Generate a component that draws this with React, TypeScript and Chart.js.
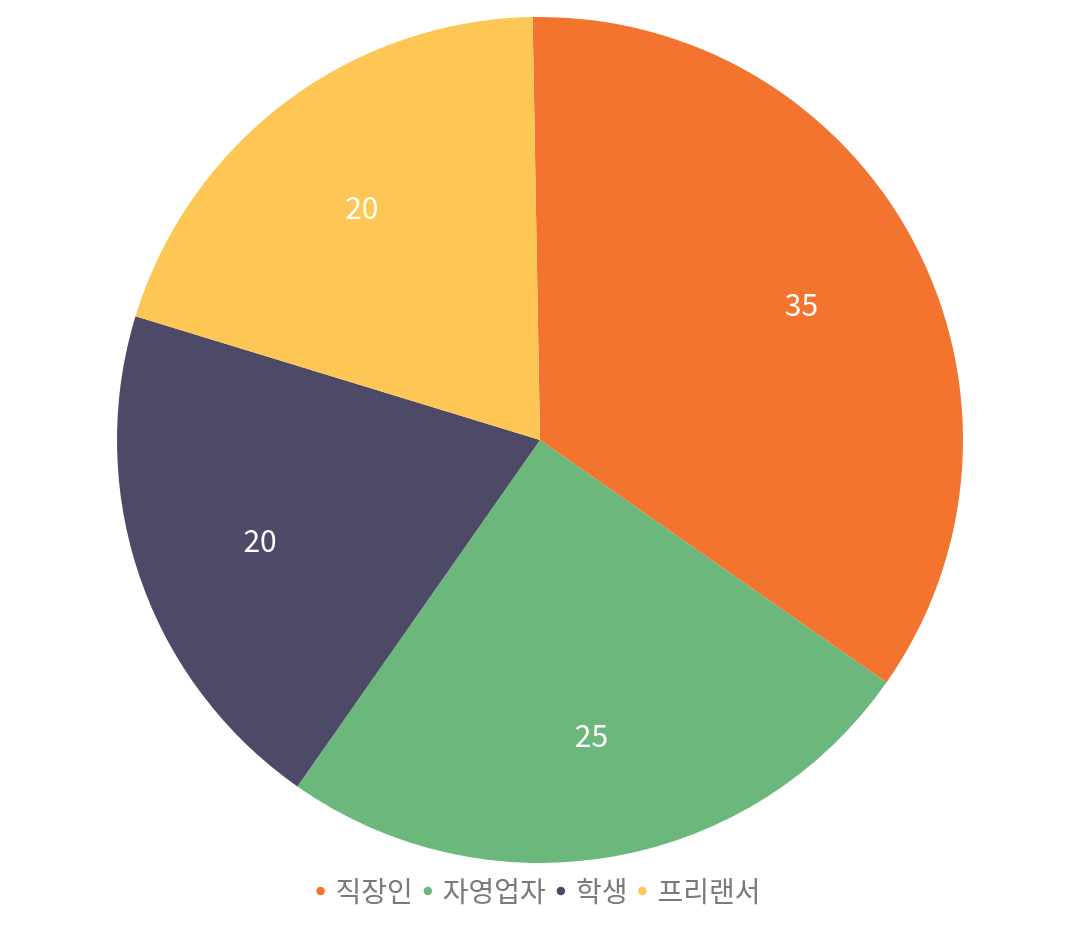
import { useRef, useEffect } from 'react';
import { Chart, registerables, Plugin } from 'chart.js';

Chart.register(...registerables);

const categories = ['직장인', '자영업자', '학생', '프리랜서'];
const values = [35, 25, 20, 20];
const colors = ['#F2742F', '#6CB77C', '#4D4A68', '#FEC755'];

const FONT = "'Noto Sans CJK KR', 'Noto Sans', sans-serif";

// draws the value inside each slice, at ~70% of the radius
const sliceLabels: Plugin<'pie'> = {
  id: 'sliceLabels',
  afterDatasetsDraw(chart) {
    const { ctx } = chart;
    const meta = chart.getDatasetMeta(0);
    ctx.save();
    ctx.fillStyle = '#ffffff';
    ctx.font = `30px ${FONT}`;
    ctx.textAlign = 'center';
    ctx.textBaseline = 'middle';
    meta.data.forEach((el, i) => {
      const { startAngle, endAngle, outerRadius, x, y } = (el as any).getProps(
        ['startAngle', 'endAngle', 'outerRadius', 'x', 'y'],
        true
      );
      const mid = (startAngle + endAngle) / 2;
      const r = outerRadius * 0.7;
      ctx.fillText(String(values[i]), x + Math.cos(mid) * r, y + Math.sin(mid) * r + 4);
    });
    ctx.restore();
  },
};

const PieChart = () => {
  const chartRef = useRef<HTMLCanvasElement | null>(null);
  const chartInstance = useRef<Chart | null>(null);

  useEffect(() => {
    if (!chartRef.current) return;

    if (chartInstance.current) {
      chartInstance.current.destroy();
    }

    chartInstance.current = new Chart(chartRef.current, {
      type: 'pie',
      data: {
        labels: categories,
        datasets: [
          {
            data: values,
            backgroundColor: colors,
            borderWidth: 0,
          },
        ],
      },
      options: {
        animation: false,
        responsive: true,
        maintainAspectRatio: false,
        rotation: -1,
        layout: { padding: { top: 9, bottom: 7 } },
        plugins: {
          legend: {
            position: 'bottom',
            labels: {
              usePointStyle: true,
              pointStyle: 'circle',
              boxWidth: 2,
              boxHeight: 6,
              padding: 14,
              color: '#7a7a7a',
              font: { family: FONT, size: 28 },
            },
          },
          tooltip: { enabled: false },
        },
      },
      plugins: [sliceLabels],
    });

    return () => {
      if (chartInstance.current) {
        chartInstance.current.destroy();
        chartInstance.current = null;
      }
    };
  }, []);

  return (
    <div style={{ position: 'relative', height: 914 }}>
      <canvas ref={chartRef}></canvas>
    </div>
  );
};

export default function App() {
  return <PieChart />;
}
